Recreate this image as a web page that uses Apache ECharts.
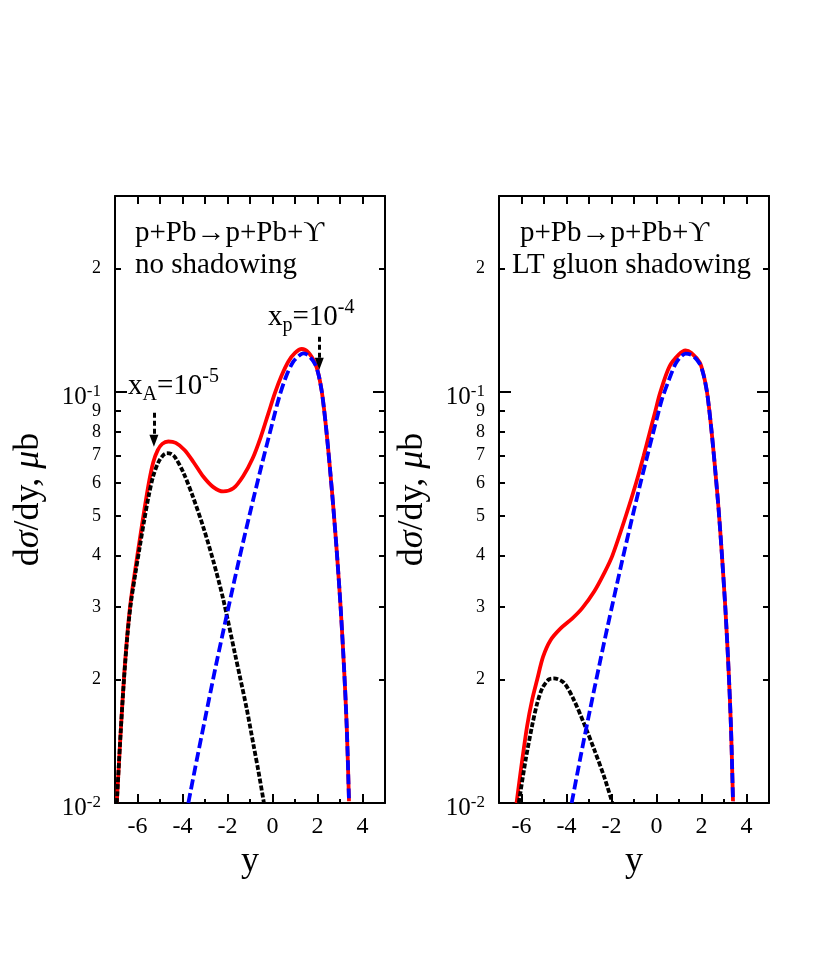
<!DOCTYPE html>
<html>
<head>
<meta charset="utf-8">
<script src="https://cdn.jsdelivr.net/npm/echarts@6/dist/echarts.min.js"></script>
<style>
  html, body { margin: 0; padding: 0; background: #fff; }
  #chart { width: 830px; height: 969px; }
</style>
</head>
<body>
<div id="chart"></div>
<script>
const SERIF = "'Liberation Serif', 'DejaVu Serif', serif";

// rapidity y vs dsigma/dy (mub)
// left panel: no shadowing
const noShadTotal = [
  [-6.92, 0.0100], [-6.75, 0.0148], [-6.60, 0.0202], [-6.45, 0.0258], [-6.30, 0.0310],
  [-6.10, 0.0370], [-5.90, 0.0437], [-5.70, 0.0515], [-5.50, 0.0600], [-5.30, 0.0675],
  [-5.10, 0.0722], [-4.90, 0.0748], [-4.63, 0.0758], [-4.30, 0.0752], [-3.90, 0.0722],
  [-3.50, 0.0674], [-3.07, 0.0622], [-2.63, 0.0587], [-2.19, 0.0573], [-1.74, 0.0583],
  [-1.30, 0.0625], [-0.88, 0.0690], [-0.53, 0.0775], [-0.19, 0.0885], [0.11, 0.0995],
  [0.40, 0.1095], [0.70, 0.1185], [1.00, 0.1245], [1.30, 0.1273], [1.59, 0.1250],
  [1.89, 0.1176], [2.05, 0.1102], [2.19, 0.1003], [2.29, 0.0910], [2.38, 0.0820],
  [2.47, 0.0731], [2.58, 0.0628], [2.71, 0.0519], [2.86, 0.0407], [3.03, 0.0298],
  [3.18, 0.0213], [3.30, 0.0153], [3.40, 0.0101]
];
const noShadXa = [
  [-6.92, 0.0100], [-6.75, 0.0148], [-6.60, 0.0200], [-6.45, 0.0255], [-6.30, 0.0305],
  [-6.10, 0.0360], [-5.90, 0.0420], [-5.70, 0.0488], [-5.50, 0.0560], [-5.30, 0.0625],
  [-5.07, 0.0675], [-4.85, 0.0703], [-4.70, 0.0710], [-4.50, 0.0707], [-4.33, 0.0694],
  [-3.96, 0.0637], [-3.52, 0.0553], [-3.07, 0.0468], [-2.63, 0.0388], [-2.20, 0.0315],
  [-1.67, 0.0231], [-1.44, 0.0202], [-1.15, 0.0170], [-0.85, 0.0139], [-0.62, 0.0119],
  [-0.38, 0.0100]
];
const noShadXp = [
  [-3.74, 0.0100], [-3.37, 0.0127], [-3.00, 0.0160], [-2.50, 0.0218], [-2.00, 0.0292],
  [-1.50, 0.0388], [-1.00, 0.0508], [-0.50, 0.0658], [0.00, 0.0843], [0.30, 0.0973],
  [0.60, 0.1090], [0.90, 0.1180], [1.15, 0.1222], [1.37, 0.1242], [1.60, 0.1228],
  [1.89, 0.1170], [2.05, 0.1100], [2.19, 0.1003], [2.29, 0.0910], [2.38, 0.0820],
  [2.47, 0.0731], [2.58, 0.0628], [2.71, 0.0519], [2.86, 0.0407], [3.03, 0.0298],
  [3.18, 0.0213], [3.30, 0.0153], [3.40, 0.0101]
];

// right panel: LT gluon shadowing
const shadTotal = [
  [-6.22, 0.0100], [-5.97, 0.0127], [-5.75, 0.0154], [-5.53, 0.0178], [-5.30, 0.0200],
  [-5.04, 0.0227], [-4.71, 0.0249], [-4.26, 0.0266], [-3.75, 0.0281], [-3.30, 0.0298],
  [-2.77, 0.0327], [-2.33, 0.0362], [-1.96, 0.0400], [-1.36, 0.0500], [-0.91, 0.0600],
  [-0.57, 0.0700], [-0.32, 0.0790], [-0.05, 0.0900], [0.17, 0.1000], [0.58, 0.1155],
  [1.00, 0.1235], [1.29, 0.1263], [1.55, 0.1245], [1.92, 0.1180], [2.09, 0.1103],
  [2.24, 0.1003], [2.34, 0.0910], [2.43, 0.0820], [2.52, 0.0731], [2.63, 0.0628],
  [2.76, 0.0519], [2.90, 0.0407], [3.06, 0.0298], [3.20, 0.0213], [3.31, 0.0153],
  [3.40, 0.0101]
];
const shadXa = [
  [-6.12, 0.0100], [-5.82, 0.0127], [-5.53, 0.0154], [-5.30, 0.0175], [-5.08, 0.0190],
  [-4.78, 0.0200], [-4.56, 0.0201], [-4.11, 0.0196], [-3.67, 0.0178], [-3.22, 0.0156],
  [-2.77, 0.0135], [-2.33, 0.0116], [-1.96, 0.0100]
];
const shadXp = [
  [-3.77, 0.0100], [-3.37, 0.0130], [-3.00, 0.0164], [-2.50, 0.0222], [-2.18, 0.0268],
  [-1.51, 0.0392], [-1.06, 0.0500], [-0.69, 0.0607], [-0.39, 0.0706], [-0.17, 0.0788],
  [0.05, 0.0877], [0.25, 0.0964], [0.55, 0.1070], [0.85, 0.1172], [1.10, 0.1222],
  [1.29, 0.1241], [1.60, 0.1228], [1.92, 0.1172], [2.09, 0.1101], [2.24, 0.1003],
  [2.34, 0.0910], [2.43, 0.0820], [2.52, 0.0731], [2.63, 0.0628], [2.76, 0.0519],
  [2.90, 0.0407], [3.06, 0.0298], [3.20, 0.0213], [3.31, 0.0153], [3.40, 0.0101]
];

// arrows marking x_A = 1e-5 and x_p = 1e-4 (left panel): [y, from, to]
const arrowXa = [-5.27, 0.089, 0.0761];
const arrowXp = [2.08, 0.1364, 0.1172];

// ticks
const xLabelVals = [-6, -4, -2, 0, 2, 4];
const xMinorTicks = [-5, -3, -1, 1, 3];
const xTopTicks = [-6, -5, -4, -3, -2, -1, 0, 1, 2, 3, 4];
const yLabelVals = [0.01, 0.02, 0.03, 0.04, 0.05, 0.06, 0.07, 0.08, 0.09, 0.1, 0.2];
const yMinorTicks = [0.02, 0.03, 0.04, 0.05, 0.06, 0.07, 0.08, 0.09, 0.2];
const yMajorTicks = [0.01, 0.1];

const black = '#000';
const frame = { show: true, onZero: false, lineStyle: { color: black, width: 2 } };
const noLine = { show: false, onZero: false };
const tickStyle = { color: black, width: 2 };

function yLabel(v) {
  const e = Math.round(Math.log10(v) * 1000) / 1000;
  if (Number.isInteger(e)) return '{b|10}{s|' + e + '}';
  return String(Math.round(v / Math.pow(10, Math.floor(Math.log10(v) + 1e-9))));
}

const grids = [], xAxes = [], yAxes = [];
[115, 499].forEach((left, i) => {
  grids.push({ left: left, top: 196, width: 270, height: 607 });
  xAxes.push({
    gridIndex: i, type: 'value', min: -7, max: 5, position: 'bottom',
    axisLine: frame, splitLine: { show: false },
    axisTick: { inside: true, length: 9, customValues: xLabelVals, lineStyle: tickStyle },
    axisLabel: { customValues: xLabelVals, fontSize: 24, fontFamily: SERIF, color: black, margin: 12 },
    name: 'y', nameLocation: 'middle', nameGap: 15,
    nameTextStyle: { fontSize: 36, fontFamily: SERIF, color: black }
  }, {
    gridIndex: i, type: 'value', min: -7, max: 5, position: 'bottom',
    axisLine: noLine, splitLine: { show: false }, axisLabel: { show: false },
    axisTick: { inside: true, length: 4, customValues: xMinorTicks, lineStyle: tickStyle }
  }, {
    gridIndex: i, type: 'value', min: -7, max: 5, position: 'top',
    axisLine: frame, splitLine: { show: false }, axisLabel: { show: false },
    axisTick: { inside: true, length: 8, customValues: xTopTicks, lineStyle: tickStyle }
  });
  const logBase = { gridIndex: i, type: 'log', logBase: 10, min: 0.01, max: 0.3, splitLine: { show: false } };
  yAxes.push(Object.assign({}, logBase, {
    position: 'left', axisLine: frame,
    axisTick: { inside: true, length: 6, customValues: yMinorTicks, lineStyle: tickStyle },
    axisLabel: {
      customValues: yLabelVals, formatter: yLabel, margin: 14,
      fontSize: 18, fontFamily: SERIF, color: black,
      rich: {
        b: { fontSize: 25, fontFamily: SERIF, color: black, lineHeight: 30, padding: [10, 0, 0, 0] },
        s: { fontSize: 17, fontFamily: SERIF, color: black, lineHeight: 16, padding: [6, 0, 0, 0], verticalAlign: 'top' }
      }
    },
    name: '{n|d}{i|σ}{n|/dy, }{i|μ}{n|b}', nameLocation: 'middle', nameGap: 68,
    nameTextStyle: {
      rich: {
        n: { fontSize: 36, fontFamily: SERIF, color: black },
        i: { fontSize: 36, fontFamily: SERIF, color: black, fontStyle: 'italic' }
      }
    }
  }), Object.assign({}, logBase, {
    position: 'left', axisLine: noLine, axisLabel: { show: false },
    axisTick: { inside: true, length: 12, customValues: yMajorTicks, lineStyle: tickStyle }
  }), Object.assign({}, logBase, {
    position: 'right', axisLine: frame, axisLabel: { show: false },
    axisTick: { inside: true, length: 6, customValues: yMinorTicks, lineStyle: tickStyle }
  }), Object.assign({}, logBase, {
    position: 'right', axisLine: noLine, axisLabel: { show: false },
    axisTick: { inside: true, length: 12, customValues: yMajorTicks, lineStyle: tickStyle }
  }));
});

function curve(data, i, color, dash) {
  return {
    type: 'line', data: data, xAxisIndex: 3 * i, yAxisIndex: 4 * i,
    showSymbol: false, smooth: 0.3, silent: true,
    lineStyle: { color: color, width: 3.8, type: dash, cap: 'butt' }
  };
}

function arrow(a) {
  return [{ coord: [a[0], a[1]] }, { coord: [a[0], a[2]] }];
}

const leftXa = curve(noShadXa, 0, black, [5, 2]);
leftXa.markLine = {
  silent: true, symbol: ['none', 'triangle'], symbolSize: [9, 12],
  label: { show: false },
  lineStyle: { color: black, width: 3, type: [5, 3] },
  data: [arrow(arrowXa), arrow(arrowXp)]
};

const titleStyle = { fontSize: 29, fontFamily: SERIF, fill: black, align: 'left', verticalAlign: 'middle' };
const noteRich = {
  m: { fontSize: 29, fontFamily: SERIF, fill: black, lineHeight: 38 },
  sub: { fontSize: 20, fontFamily: SERIF, fill: black, lineHeight: 21, verticalAlign: 'bottom' },
  sup: { fontSize: 20, fontFamily: SERIF, fill: black, lineHeight: 19, verticalAlign: 'top' }
};

const chart = echarts.init(document.getElementById('chart'), null, { renderer: 'canvas' });
chart.setOption({
  animation: false,
  backgroundColor: '#fff',
  grid: grids,
  xAxis: xAxes,
  yAxis: yAxes,
  series: [
    curve(noShadTotal, 0, '#ff0000', 'solid'),
    leftXa,
    curve(noShadXp, 0, '#0000ff', [10, 4]),
    curve(shadTotal, 1, '#ff0000', 'solid'),
    curve(shadXa, 1, black, [5, 2]),
    curve(shadXp, 1, '#0000ff', [10, 4])
  ],
  graphic: [
    { type: 'text', style: Object.assign({ x: 135, y: 233, text: 'p+Pb→p+Pb+ϒ' }, titleStyle) },
    { type: 'text', style: Object.assign({ x: 135, y: 265, text: 'no shadowing' }, titleStyle) },
    { type: 'text', style: Object.assign({ x: 520, y: 233, text: 'p+Pb→p+Pb+ϒ' }, titleStyle) },
    { type: 'text', style: Object.assign({ x: 512, y: 265, text: 'LT gluon shadowing' }, titleStyle) },
    { type: 'text', style: { x: 128, y: 367, verticalAlign: 'top', text: '{m|x}{sub|A}{m|=10}{sup|-5}', rich: noteRich } },
    { type: 'text', style: { x: 268, y: 298, verticalAlign: 'top', text: '{m|x}{sub|p}{m|=10}{sup|-4}', rich: noteRich } }
  ]
});
</script>
</body>
</html>
